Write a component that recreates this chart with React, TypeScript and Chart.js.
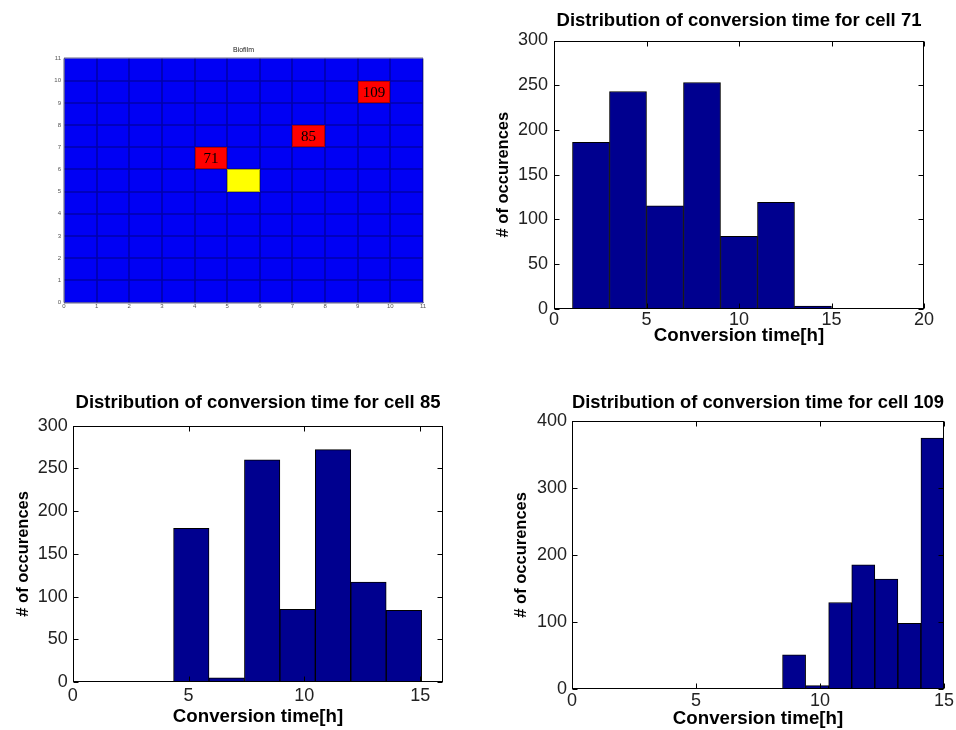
import React, { useEffect, useRef } from 'react';
import { Chart, registerables } from 'chart.js';

Chart.register(...registerables);

// ---------- data ----------
// Biofilm grid (11 x 11 cells), marked cells given by their lower-left corner
const biofilmTicks = [0, 11];
const markedCellIds = ['71', '85', '109'];
const markedCellX = [4, 7, 9];
const markedCellY = [6, 7, 9];
const sourceCellX = [5];
const sourceCellY = [5];

// Histograms: bin centres [h] and counts
const cell71Centers = [2, 4, 6, 8, 10, 12, 14];
const cell71Counts = [186, 243, 115, 253, 81, 119, 3];

const cell85Centers = [5.12, 6.65, 8.18, 9.71, 11.24, 12.77, 14.3];
const cell85Counts = [180, 5, 260, 85, 272, 117, 84];

const cell109Centers = [8.955, 9.885, 10.815, 11.745, 12.675, 13.605, 14.535];
const cell109Counts = [51, 5, 129, 185, 164, 98, 374];

const xLabel = 'Conversion time[h]';
const yLabel = '# of occurences';
const titlePrefix = 'Distribution of conversion time for cell ';

const FONT = "'Liberation Sans', Arial, Helvetica, sans-serif";

// ---------- plugins ----------
const matlabBox = {
  id: 'matlabBox',
  afterDraw(chart: any) {
    const { ctx, chartArea: a, scales } = chart;
    const x = scales.x;
    const y = scales.y;
    ctx.save();
    ctx.strokeStyle = '#000';
    ctx.lineWidth = 1;
    const L = Math.round(a.left) + 0.5;
    const R = Math.round(a.right) - 0.5;
    const T = Math.round(a.top) + 0.5;
    const B = Math.round(a.bottom) - 0.5;
    ctx.beginPath();
    const tl = 5;
    x.ticks.forEach((t: any) => {
      const px = Math.round(x.getPixelForValue(t.value)) + 0.5;
      ctx.moveTo(px, B);
      ctx.lineTo(px, B - tl);
      ctx.moveTo(px, T);
      ctx.lineTo(px, T + tl);
    });
    y.ticks.forEach((t: any) => {
      const py = Math.round(y.getPixelForValue(t.value)) + 0.5;
      ctx.moveTo(L, py);
      ctx.lineTo(L + tl, py);
      ctx.moveTo(R, py);
      ctx.lineTo(R - tl, py);
    });
    ctx.stroke();
    ctx.strokeRect(L, T, R - L, B - T);
    ctx.restore();
  },
};

const biofilmPlugin = {
  id: 'biofilmCells',
  beforeDraw(chart: any) {
    const { ctx, chartArea: a } = chart;
    ctx.save();
    ctx.fillStyle = '#0000F4';
    ctx.fillRect(a.left, a.top, a.right - a.left, a.bottom - a.top);
    ctx.restore();
  },
  beforeDatasetsDraw(chart: any) {
    const { ctx, chartArea: a, scales } = chart;
    const x = scales.x;
    const y = scales.y;
    ctx.save();
    ctx.strokeStyle = 'rgba(0,0,60,0.4)';
    ctx.lineWidth = 1.6;
    ctx.beginPath();
    x.ticks.forEach((t: any) => {
      const px = Math.round(x.getPixelForValue(t.value));
      ctx.moveTo(px, a.top);
      ctx.lineTo(px, a.bottom);
    });
    y.ticks.forEach((t: any) => {
      const py = Math.round(y.getPixelForValue(t.value));
      ctx.moveTo(a.left, py);
      ctx.lineTo(a.right, py);
    });
    ctx.stroke();
    ctx.restore();
  },
  afterDatasetsDraw(chart: any) {
    const { ctx, scales } = chart;
    const x = scales.x;
    const y = scales.y;
    const cell = (cx: number, cy: number, fill: string) => {
      const l = Math.round(x.getPixelForValue(cx));
      const r = Math.round(x.getPixelForValue(cx + 1));
      const t = Math.round(y.getPixelForValue(cy + 1));
      const b = Math.round(y.getPixelForValue(cy));
      ctx.fillStyle = fill;
      ctx.fillRect(l, t, r - l, b - t);
      ctx.strokeStyle = 'rgba(0,0,0,0.3)';
      ctx.lineWidth = 1;
      ctx.strokeRect(l + 0.5, t + 0.5, r - l - 1, b - t - 1);
      return { l, r, t, b };
    };
    ctx.save();
    sourceCellX.forEach((cx, i) => cell(cx, sourceCellY[i], '#FFFF00'));
    markedCellX.forEach((cx, i) => {
      const box = cell(cx, markedCellY[i], '#FF0000');
      ctx.fillStyle = '#000';
      ctx.font = "15px 'Liberation Serif', 'Times New Roman', serif";
      ctx.textAlign = 'center';
      ctx.textBaseline = 'middle';
      ctx.fillText(markedCellIds[i], (box.l + box.r) / 2, (box.t + box.b) / 2 + 1);
    });
    ctx.restore();
  },
};

// ---------- configs ----------
function biofilmConfig(): any {
  const tickFont = { family: FONT, size: 6 };
  return {
    type: 'scatter',
    data: { datasets: [] },
    plugins: [biofilmPlugin],
    options: {
      animation: false,
      responsive: false,
      devicePixelRatio: 1,
      layout: { padding: { left: 0, right: 17, top: 0, bottom: 7.5 } },
      plugins: {
        legend: { display: false },
        tooltip: { enabled: false },
        title: {
          display: true,
          text: 'Biofilm',
          fullSize: false,
          color: '#222',
          font: { family: FONT, size: 7, weight: 'normal', lineHeight: 1.2 },
          padding: { top: 45.8, bottom: 4.3 },
        },
      },
      scales: {
        x: {
          type: 'linear',
          min: biofilmTicks[0],
          max: biofilmTicks[1],
          afterFit: (s: any) => { s.height = 20; },
          ticks: { stepSize: 1, color: '#555', font: tickFont, padding: 0.5, maxRotation: 0, autoSkip: false },
          grid: { display: false, drawTicks: false },
          border: { display: true, color: '#7f7fd0' },
        },
        y: {
          type: 'linear',
          min: biofilmTicks[0],
          max: biofilmTicks[1],
          afterFit: (s: any) => { s.width = 64; },
          ticks: { stepSize: 1, color: '#555', font: tickFont, padding: 3, autoSkip: false },
          grid: { display: false, drawTicks: false },
          border: { display: true, color: '#7f7fd0' },
        },
      },
    },
  };
}

interface HistOpts {
  title: string;
  centers: number[];
  counts: number[];
  xMax: number;
  yMax: number;
  yStep: number;
  yWidth: number;
  xHeight: number;
  pad: { left: number; right: number; top: number; bottom: number };
  titlePad: { top: number; bottom: number };
  xTickPad: number;
  yTickPad: number;
  yTitlePad: number;
  xTitlePad: number;
}

function histConfig(o: HistOpts): any {
  const tickFont = { family: FONT, size: 18, weight: 'normal' };
  const axisTitleFont = { family: FONT, size: 18.7, weight: 'bold', lineHeight: 1.2 };
  return {
    type: 'bar',
    data: {
      datasets: [
        {
          data: o.centers.map((c, i) => ({ x: c, y: o.counts[i] })),
          backgroundColor: '#00008F',
          borderColor: '#000',
          borderWidth: 1,
          borderSkipped: 'start',
          barPercentage: 1,
          categoryPercentage: 1,
        },
      ],
    },
    plugins: [matlabBox],
    options: {
      animation: false,
      responsive: false,
      devicePixelRatio: 1,
      layout: { padding: o.pad },
      plugins: {
        legend: { display: false },
        tooltip: { enabled: false },
        title: {
          display: true,
          text: o.title,
          fullSize: false,
          color: '#000',
          font: { family: FONT, size: 18.5, weight: 'bold', lineHeight: 1.2 },
          padding: o.titlePad,
        },
      },
      scales: {
        x: {
          type: 'linear',
          min: 0,
          max: o.xMax,
          offset: false,
          afterFit: (s: any) => { s.height = o.xHeight; },
          ticks: { stepSize: 5, includeBounds: false, color: '#222', font: tickFont, padding: o.xTickPad, maxRotation: 0 },
          grid: { display: false, drawTicks: false },
          border: { display: false },
          title: {
            display: true,
            text: xLabel,
            color: '#000',
            font: axisTitleFont,
            padding: { top: 0, bottom: o.xTitlePad },
          },
        },
        y: {
          type: 'linear',
          min: 0,
          max: o.yMax,
          afterFit: (s: any) => { s.width = o.yWidth; },
          ticks: { stepSize: o.yStep, color: '#222', font: tickFont, padding: o.yTickPad },
          grid: { display: false, drawTicks: false },
          border: { display: false },
          title: {
            display: true,
            text: yLabel,
            color: '#000',
            font: { family: FONT, size: 16.5, weight: 'bold', lineHeight: 1.2 },
            padding: { top: o.yTitlePad, bottom: 0 },
          },
        },
      },
    },
  };
}

function ChartCanvas({ left, top, width, height, config }: { left: number; top: number; width: number; height: number; config: () => any }) {
  const ref = useRef<HTMLCanvasElement | null>(null);
  useEffect(() => {
    if (!ref.current) return;
    const chart = new Chart(ref.current, config());
    return () => chart.destroy();
  }, []);
  return (
    <canvas
      ref={ref}
      width={width}
      height={height}
      style={{ position: 'absolute', left, top, width, height, display: 'block' }}
    />
  );
}

export default function App() {
  return (
    <div style={{ position: 'absolute', left: 0, top: 0, width: 956, height: 730, background: '#fff', overflow: 'hidden' }}>
      <ChartCanvas left={0} top={0} width={440} height={330} config={biofilmConfig} />
      <ChartCanvas
        left={480}
        top={0}
        width={476}
        height={360}
        config={() =>
          histConfig({
            title: titlePrefix + '71',
            centers: cell71Centers,
            counts: cell71Counts,
            xMax: 20,
            yMax: 300,
            yStep: 50,
            yWidth: 74,
            xHeight: 40,
            pad: { left: 0, right: 32, top: 0, bottom: 11.3 },
            titlePad: { top: 9.9, bottom: 8.4 },
            xTickPad: 1,
            yTickPad: 6,
            yTitlePad: 13.1,
            xTitlePad: 1.5,
          })
        }
      />
      <ChartCanvas
        left={0}
        top={380}
        width={470}
        height={350}
        config={() =>
          histConfig({
            title: titlePrefix + '85',
            centers: cell85Centers,
            counts: cell85Counts,
            xMax: 16,
            yMax: 300,
            yStep: 50,
            yWidth: 72.7,
            xHeight: 46,
            pad: { left: 0, right: 26.7, top: 0, bottom: 2 },
            titlePad: { top: 11.9, bottom: 11.6 },
            xTickPad: 3.2,
            yTickPad: 5,
            yTitlePad: 13.4,
            xTitlePad: 0.3,
          })
        }
      />
      <ChartCanvas
        left={480}
        top={380}
        width={476}
        height={350}
        config={() =>
          histConfig({
            title: titlePrefix + '109',
            centers: cell109Centers,
            counts: cell109Counts,
            xMax: 15,
            yMax: 400,
            yStep: 100,
            yWidth: 92,
            xHeight: 41,
            pad: { left: 0, right: 12, top: 0, bottom: 0 },
            titlePad: { top: 11.4, bottom: 7.1 },
            xTickPad: 1.7,
            yTickPad: 5,
            yTitlePad: 31.8,
            xTitlePad: 0,
          })
        }
      />
    </div>
  );
}
